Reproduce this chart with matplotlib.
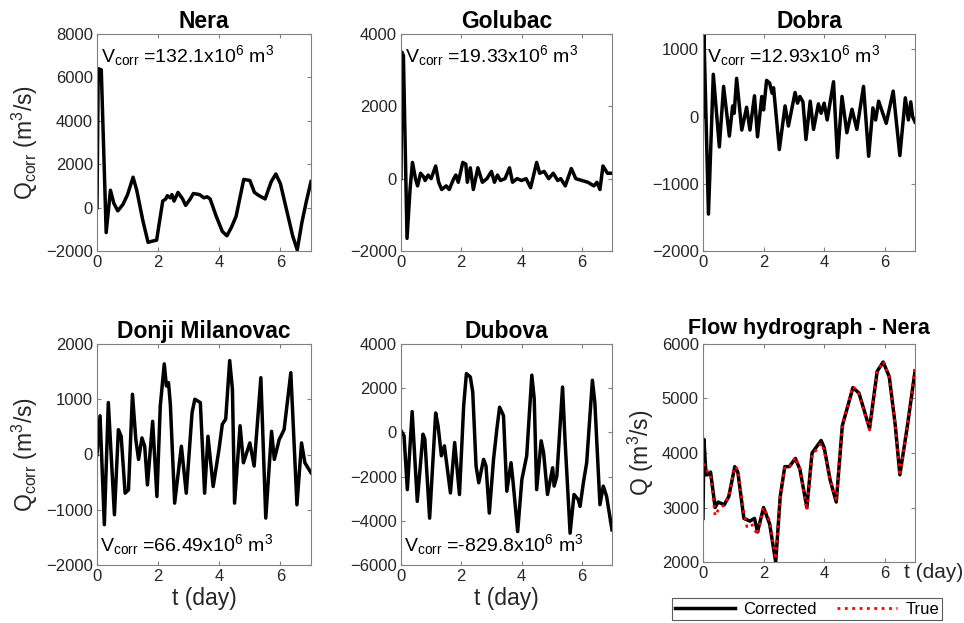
import matplotlib
matplotlib.use('Agg')
import matplotlib.pyplot as plt

plt.rcParams['font.family'] = ['Liberation Sans', 'DejaVu Sans']
plt.rcParams['mathtext.fontset'] = 'custom'
plt.rcParams['mathtext.rm'] = 'Liberation Sans'
plt.rcParams['mathtext.it'] = 'Liberation Sans'

# Nera - correction discharge
t_nera = [0, 0.04, 0.14, 0.3, 0.44, 0.55, 0.68, 0.85, 1.0, 1.18, 1.3, 1.5, 1.67, 1.8, 1.95,
          2.15, 2.25, 2.3, 2.4, 2.45, 2.52, 2.65, 2.8, 2.9, 3.05, 3.15, 3.35, 3.5, 3.6, 3.7,
          3.9, 4.1, 4.25, 4.4, 4.55, 4.8, 5.0, 5.15, 5.3, 5.5, 5.7, 5.85, 6.0, 6.2, 6.4,
          6.55, 6.7, 6.85, 7.0]
q_nera = [0, 6400, 6350, -1150, 800, 200, -150, 150, 600, 1400, 800, -600, -1600, -1550, -1500,
          300, 400, 550, 450, 600, 300, 700, 400, 100, 400, 650, 600, 450, 500, 400,
          -400, -1100, -1300, -900, -400, 1300, 1250, 700, 550, 400, 1200, 1550, 1100, -100, -1300,
          -1950, -700, 300, 1200]

# Golubac
t_gol = [0, 0.03, 0.08, 0.2, 0.3, 0.38, 0.48, 0.55, 0.65, 0.75, 0.8, 0.9, 1.0, 1.15, 1.25,
         1.35, 1.5, 1.6, 1.75, 1.82, 1.9, 2.05, 2.15, 2.2, 2.3, 2.4, 2.55, 2.7, 2.85, 3.0,
         3.1, 3.2, 3.3, 3.45, 3.6, 3.7, 3.85, 4.0, 4.15, 4.3, 4.5, 4.6, 4.75, 4.9, 5.05,
         5.2, 5.3, 5.45, 5.65, 5.8, 6.0, 6.2, 6.4, 6.5, 6.6, 6.7, 6.85, 7.0]
q_gol = [0, 3500, 3400, -1650, -300, 450, 0, -200, 150, 50, -50, 100, 0, 350, -100,
         -300, -200, -300, 0, 100, -100, 450, 400, -100, 300, -300, 300, -100, 0, 200,
         -100, 100, -50, 0, 300, -100, 0, -50, 0, -250, 450, 150, 200, 0, 150,
         -50, 0, -200, 280, 0, -50, -100, -200, -100, -300, 350, 150, 150]

# Dobra
t_dob = [0, 0.03, 0.18, 0.34, 0.54, 0.68, 0.87, 0.98, 1.03, 1.11, 1.28, 1.44, 1.55, 1.7, 1.8,
         1.94, 2.0, 2.1, 2.2, 2.28, 2.33, 2.52, 2.71, 2.82, 3.04, 3.12, 3.2, 3.3, 3.4, 3.54,
         3.65, 3.81, 3.9, 4.0, 4.1, 4.31, 4.44, 4.59, 4.75, 4.92, 5.08, 5.3, 5.47, 5.61, 5.7,
         5.8, 6.05, 6.28, 6.5, 6.68, 6.78, 6.86, 6.92, 7.0]
q_dob = [0, 1230, -1450, 630, -450, 450, -290, 160, 50, 570, -200, 140, -200, 310, -300,
         300, 100, 540, 500, 350, 430, -490, 160, -140, 360, 200, 300, 220, -340, 230,
         -190, 190, 50, 200, -50, 520, -610, 300, -240, 110, -190, 450, -590, 130, -50,
         230, -100, 380, -580, 280, -50, 220, 0, -80]

# Donji Milanovac
t_dm = [0, 0.1, 0.24, 0.37, 0.57, 0.7, 0.79, 0.92, 1.03, 1.16, 1.27, 1.36, 1.47, 1.56, 1.65,
        1.82, 1.96, 2.07, 2.2, 2.27, 2.34, 2.4, 2.54, 2.76, 2.92, 3.11, 3.2, 3.38, 3.52, 3.63,
        3.8, 3.99, 4.1, 4.21, 4.34, 4.43, 4.5, 4.68, 4.79, 5.0, 5.14, 5.36, 5.52, 5.71, 5.8,
        5.96, 6.12, 6.34, 6.54, 6.69, 6.8, 7.0]
q_dm = [0, 700, -1270, 940, -1090, 450, 330, -700, -640, 1090, 270, -90, 300, 150, -550,
        600, -760, 880, 1640, 1240, 1300, 900, -880, 150, -700, 760, 1000, 940, -700, 330,
        -580, 90, 550, 640, 1700, 1180, -880, 520, -150, 210, -210, 1390, -1150, 420, -90,
        270, 450, 1480, -910, 210, -150, -330]

# Dubova
t_dub = [0, 0.1, 0.21, 0.37, 0.54, 0.73, 0.79, 0.95, 1.15, 1.23, 1.34, 1.44, 1.64, 1.78, 1.94,
         2.08, 2.17, 2.3, 2.38, 2.49, 2.58, 2.74, 2.82, 2.93, 3.07, 3.18, 3.27, 3.4, 3.51, 3.65,
         3.71, 3.87, 4.01, 4.17, 4.34, 4.42, 4.5, 4.65, 4.73, 4.86, 5.03, 5.08, 5.17, 5.36, 5.44,
         5.61, 5.74, 5.88, 5.94, 6.05, 6.16, 6.35, 6.43, 6.6, 6.71, 6.82, 7.0]
q_dub = [80, -150, -2590, 940, -3120, -80, -300, -3880, 880, 300, -1060, -610, -2740, -460, -2810,
         1220, 2660, 2510, 1830, -1520, -2280, -1220, -1520, -3650, -1220, 150, 1140, 760, -2660, -1370,
         -2130, -4490, -2130, -1060, 2590, 1520, -2590, -380, -910, -2810, -1600, -2430, -1980, 2050, -300,
         -4560, -2810, -3040, -3350, -2280, -1370, 2360, 1370, -3270, -2430, -2890, -4410]

# Flow hydrograph at Nera
t_flow = [0, 0.03, 0.1, 0.15, 0.25, 0.4, 0.5, 0.7, 0.85, 1.05, 1.15, 1.35, 1.55, 1.7, 1.8,
          2.0, 2.2, 2.4, 2.55, 2.7, 2.85, 3.05, 3.2, 3.43, 3.6, 3.9, 4.0, 4.2, 4.4, 4.6,
          4.95, 5.15, 5.5, 5.75, 5.95, 6.15, 6.35, 6.5, 6.75, 7.0]
q_corrected = [2800, 4250, 3600, 3600, 3650, 3000, 3100, 3050, 3200, 3750, 3650, 2800, 2750, 2800, 2550,
               3000, 2700, 2000, 3200, 3750, 3750, 3900, 3700, 3000, 4000, 4230, 4100, 3500, 3100, 4500,
               5200, 5100, 4450, 5500, 5670, 5400, 4500, 3600, 4500, 5500]
t_true = [0, 0.1, 0.15, 0.25, 0.4, 0.5, 0.7, 0.85, 1.05, 1.15, 1.35, 1.45, 1.6, 1.8, 2.0,
          2.2, 2.4, 2.55, 2.7, 2.85, 3.05, 3.2, 3.43, 3.6, 3.9, 4.0, 4.2, 4.4, 4.6, 4.95,
          5.15, 5.5, 5.75, 5.95, 6.15, 6.35, 6.5, 6.75, 7.0]
q_true = [3800, 3750, 3650, 3600, 2850, 2950, 3050, 3200, 3750, 3700, 2900, 2650, 2700, 2500, 3000,
          2750, 2050, 3200, 3750, 3750, 3920, 3700, 2950, 3950, 4180, 4050, 3500, 3150, 4500, 5220,
          5080, 4420, 5480, 5680, 5400, 4500, 3580, 4500, 5580]

titles = ['Nera', 'Golubac', 'Dobra', 'Donji Milanovac', 'Dubova']
vcorr = ['132.1', '19.33', '12.93', '66.49', '-829.8']
ylims = [(-2000, 8000), (-2000, 4000), (-2000, 1230), (-2000, 2000), (-6000, 4000)]
yticks = [[-2000, 0, 2000, 4000, 6000, 8000], [-2000, 0, 2000, 4000], [-2000, -1000, 0, 1000],
          [-2000, -1000, 0, 1000, 2000], [-6000, -4000, -2000, 0, 2000, 4000]]
series = [(t_nera, q_nera), (t_gol, q_gol), (t_dob, q_dob), (t_dm, q_dm), (t_dub, q_dub)]

W, H = 964, 623
fig = plt.figure(figsize=(W / 100, H / 100), dpi=100)

# axes boxes in pixels: left, top, right, bottom
boxes = [(97, 34, 311, 251), (401, 34, 612, 251), (703, 34, 915, 251),
         (97, 344, 311, 565), (401, 344, 612, 565), (703, 344, 915, 562)]


def make_ax(b):
    l, t, r, bt = b
    ax = fig.add_axes([l / W, 1 - bt / H, (r - l) / W, (bt - t) / H])
    for s in ax.spines.values():
        s.set_color('0.5')
        s.set_linewidth(0.8)
    ax.tick_params(direction='in', top=True, right=True, length=3, width=0.8,
                   color='0.5', labelsize=12, labelcolor='#262626', pad=3)
    ax.set_xlim(0, 7)
    ax.set_xticks([0, 2, 4, 6])
    return ax


for i in range(5):
    ax = make_ax(boxes[i])
    t, q = series[i]
    ax.plot(t, q, color='k', lw=2.5, solid_joinstyle='round')
    ax.set_ylim(*ylims[i])
    ax.set_yticks(yticks[i])
    ax.set_title(titles[i], fontsize=16.5, fontweight='bold', pad=4)
    label = r'V$_{\mathregular{corr}}$ =' + vcorr[i] + r'x10$^{\mathregular{6}}$ m$^{\mathregular{3}}$'
    if i < 3:
        ax.text(0.02, 0.87, label, transform=ax.transAxes, fontsize=14, va='baseline')
    else:
        ax.text(0.015, 0.065, label, transform=ax.transAxes, fontsize=14, va='baseline')
    if i in (0, 3):
        ax.set_ylabel(r'Q$_{\mathregular{corr}}$ (m$^{\mathregular{3}}$/s)', fontsize=16.5, color='#262626')
    if i in (3, 4):
        ax.set_xlabel('t (day)', fontsize=16.5, color='#262626', labelpad=2)

ax = make_ax(boxes[5])
ax.plot(t_flow, q_corrected, color='k', lw=2.5, label='Corrected')
ax.plot(t_true, q_true, color='red', lw=2.0, ls=':', label='True')
ax.set_ylim(2000, 6000)
ax.set_yticks([2000, 3000, 4000, 5000, 6000])
ax.set_title('Flow hydrograph - Nera', fontsize=15.5, fontweight='bold', pad=7)
ax.set_ylabel(r'Q (m$^{\mathregular{3}}$/s)', fontsize=16.5, color='#262626')
fig.text(963 / W, 1 - 572 / H, 't (day)', fontsize=15, color='#262626', ha='right', va='center')

leg = fig.legend(loc='center', bbox_to_anchor=(807 / W, 1 - 609 / H), ncol=2, fontsize=12,
                 frameon=True, fancybox=False, edgecolor='0.2', borderpad=0.2,
                 handlelength=3.6, columnspacing=1.2, handletextpad=0.5)
leg.get_frame().set_linewidth(0.8)

fig.savefig('out.png', dpi=100)
